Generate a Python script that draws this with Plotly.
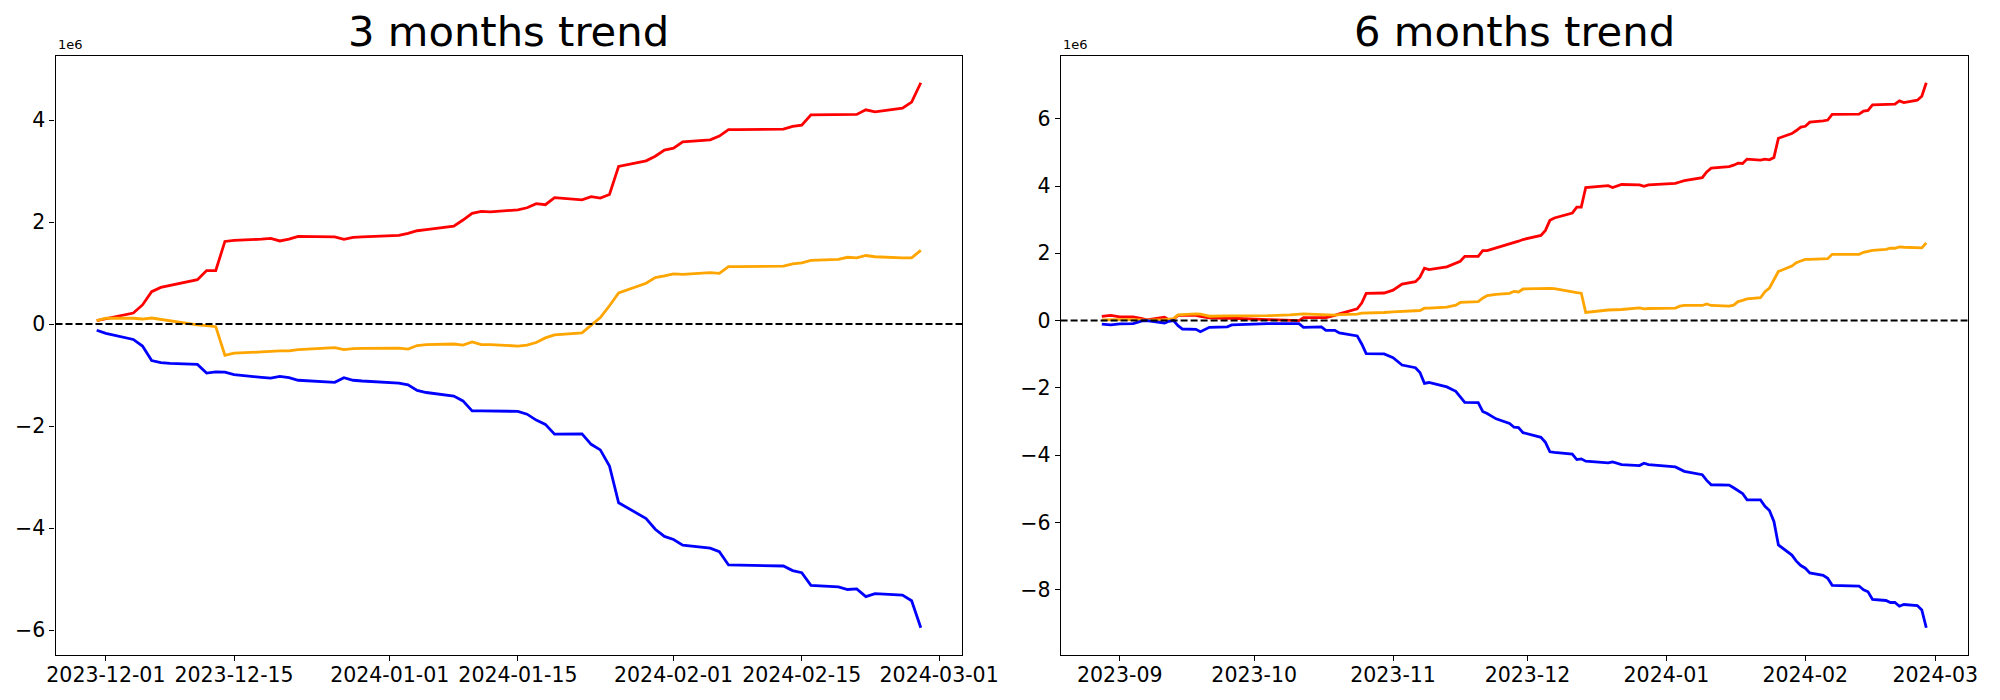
import plotly.graph_objects as go
import datetime as dt

# ---------------- data (values in units of 1e6) ----------------
dates_3m = [
    "2023-11-30", "2023-12-01", "2023-12-04", "2023-12-05", "2023-12-06", "2023-12-07", "2023-12-08",
    "2023-12-11", "2023-12-12", "2023-12-13", "2023-12-14", "2023-12-15",
    "2023-12-18", "2023-12-19", "2023-12-20", "2023-12-21", "2023-12-22",
    "2023-12-26", "2023-12-27", "2023-12-28", "2023-12-29",
    "2024-01-02", "2024-01-03", "2024-01-04", "2024-01-05",
    "2024-01-08", "2024-01-09", "2024-01-10", "2024-01-11", "2024-01-12",
    "2024-01-15", "2024-01-16", "2024-01-17", "2024-01-18", "2024-01-19",
    "2024-01-22", "2024-01-23", "2024-01-24", "2024-01-25", "2024-01-26",
    "2024-01-29", "2024-01-30", "2024-01-31", "2024-02-01", "2024-02-02",
    "2024-02-05", "2024-02-06", "2024-02-07", "2024-02-08", "2024-02-09",
    "2024-02-12", "2024-02-13", "2024-02-14", "2024-02-15", "2024-02-16",
    "2024-02-19", "2024-02-20", "2024-02-21", "2024-02-22", "2024-02-23",
    "2024-02-26", "2024-02-27", "2024-02-28",
]
red_3m = [
    0.067, 0.108, 0.218, 0.376, 0.637, 0.719, 0.76,
    0.87, 1.05, 1.05, 1.62, 1.64,
    1.665, 1.68, 1.63, 1.665, 1.72,
    1.708, 1.66, 1.70, 1.71,
    1.74, 1.78, 1.83, 1.85,
    1.92, 2.04, 2.17, 2.21, 2.20,
    2.24, 2.28, 2.36, 2.34, 2.48,
    2.435, 2.497, 2.47, 2.54, 3.09,
    3.20, 3.29, 3.41, 3.45, 3.57,
    3.61, 3.685, 3.81, 3.812, 3.815,
    3.817, 3.82, 3.875, 3.90, 4.10,
    4.10, 4.10, 4.11, 4.20, 4.16,
    4.23, 4.35, 4.73,
]
orange_3m = [
    0.067, 0.115, 0.115, 0.10, 0.12, 0.09, 0.067,
    -0.015, -0.03, -0.05, -0.61, -0.57,
    -0.545, -0.53, -0.525, -0.525, -0.50,
    -0.46, -0.50, -0.48, -0.475,
    -0.47, -0.49, -0.42, -0.40,
    -0.39, -0.41, -0.35, -0.40, -0.40,
    -0.43, -0.41, -0.36, -0.27, -0.21,
    -0.17, -0.015, 0.13, 0.36, 0.61,
    0.80, 0.91, 0.945, 0.985, 0.975,
    1.01, 0.995, 1.125, 1.128, 1.13,
    1.133, 1.135, 1.18, 1.20, 1.25,
    1.27, 1.31, 1.30, 1.345, 1.32,
    1.30, 1.30, 1.445,
]
blue_3m = [
    -0.12, -0.18, -0.30, -0.43, -0.715, -0.755, -0.77,
    -0.79, -0.96, -0.935, -0.94, -0.99,
    -1.045, -1.06, -1.025, -1.05, -1.10,
    -1.14, -1.05, -1.10, -1.115,
    -1.155, -1.19, -1.30, -1.34,
    -1.41, -1.505, -1.70, -1.70, -1.70,
    -1.71, -1.765, -1.88, -1.965, -2.155,
    -2.15, -2.355, -2.465, -2.78, -3.50,
    -3.81, -4.02, -4.16, -4.22, -4.33,
    -4.39, -4.46, -4.72, -4.723, -4.726,
    -4.73, -4.74, -4.83, -4.87, -5.12,
    -5.15, -5.20, -5.19, -5.34, -5.28,
    -5.31, -5.42, -5.95,
]

dates_6m = [
    "2023-08-28", "2023-08-30", "2023-09-01", "2023-09-04", "2023-09-06", "2023-09-07",
    "2023-09-11", "2023-09-12", "2023-09-13", "2023-09-14", "2023-09-15",
    "2023-09-18", "2023-09-19", "2023-09-21", "2023-09-25", "2023-09-26",
    "2023-10-04", "2023-10-09", "2023-10-11", "2023-10-12", "2023-10-16",
    "2023-10-17", "2023-10-19", "2023-10-20", "2023-10-24", "2023-10-25",
    "2023-10-26", "2023-10-30", "2023-11-01", "2023-11-03", "2023-11-06",
    "2023-11-07", "2023-11-08", "2023-11-09", "2023-11-13", "2023-11-15",
    "2023-11-16", "2023-11-17", "2023-11-20", "2023-11-21", "2023-11-22",
    "2023-11-24", "2023-11-27", "2023-11-28", "2023-11-29", "2023-11-30",
    "2023-12-04", "2023-12-05", "2023-12-06", "2023-12-07", "2023-12-11",
    "2023-12-12", "2023-12-13", "2023-12-14", "2023-12-19", "2023-12-20",
    "2023-12-22", "2023-12-26", "2023-12-27", "2023-12-28", "2024-01-03",
    "2024-01-04", "2024-01-05", "2024-01-09", "2024-01-10", "2024-01-11",
    "2024-01-15", "2024-01-16", "2024-01-17", "2024-01-18", "2024-01-19",
    "2024-01-22", "2024-01-23", "2024-01-24", "2024-01-25", "2024-01-26",
    "2024-01-29", "2024-01-30", "2024-01-31", "2024-02-01", "2024-02-02",
    "2024-02-05", "2024-02-06", "2024-02-07", "2024-02-13", "2024-02-14",
    "2024-02-15", "2024-02-16", "2024-02-19", "2024-02-20", "2024-02-21",
    "2024-02-22", "2024-02-23", "2024-02-26", "2024-02-27", "2024-02-28",
]
red_6m = [
    0.125, 0.155, 0.11, 0.11, 0.06, 0.02,
    0.10, 0.02, 0.04, 0.155, 0.155,
    0.155, 0.125, 0.08, 0.07, 0.07,
    0.03, 0.01, 0.0, 0.09, 0.08,
    0.09, 0.155, 0.20, 0.35, 0.52,
    0.81, 0.82, 0.905, 1.085, 1.155,
    1.29, 1.56, 1.515, 1.60, 1.70,
    1.765, 1.91, 1.91, 2.08, 2.08,
    2.16, 2.27, 2.31, 2.36, 2.41,
    2.53, 2.68, 2.98, 3.05, 3.195,
    3.375, 3.375, 3.955, 4.01, 3.955,
    4.045, 4.035, 3.99, 4.035, 4.08,
    4.12, 4.16, 4.25, 4.42, 4.53,
    4.58, 4.62, 4.68, 4.67, 4.80,
    4.77, 4.80, 4.78, 4.85, 5.42,
    5.56, 5.65, 5.75, 5.775, 5.90,
    5.935, 5.96, 6.13, 6.14, 6.23,
    6.25, 6.41, 6.42, 6.43, 6.435,
    6.53, 6.48, 6.55, 6.67, 7.07,
]
orange_6m = [
    0.02, 0.03, 0.03, 0.03, 0.02, 0.01,
    0.03, 0.04, 0.06, 0.17, 0.18,
    0.20, 0.19, 0.13, 0.14, 0.14,
    0.145, 0.17, 0.18, 0.20, 0.18,
    0.17, 0.165, 0.18, 0.19, 0.22,
    0.22, 0.24, 0.26, 0.28, 0.29,
    0.30, 0.37, 0.37, 0.40, 0.46,
    0.54, 0.55, 0.565, 0.665, 0.745,
    0.78, 0.81, 0.87, 0.85, 0.94,
    0.96, 0.96, 0.96, 0.95, 0.84,
    0.83, 0.815, 0.245, 0.315, 0.32,
    0.33, 0.38, 0.35, 0.36, 0.37,
    0.43, 0.45, 0.45, 0.495, 0.45,
    0.43, 0.46, 0.565, 0.60, 0.645,
    0.68, 0.86, 0.97, 1.20, 1.46,
    1.62, 1.72, 1.77, 1.82, 1.82,
    1.83, 1.84, 1.97, 1.97, 2.03,
    2.05, 2.09, 2.12, 2.155, 2.15,
    2.19, 2.18, 2.16, 2.16, 2.31,
]
blue_6m = [
    -0.105, -0.125, -0.10, -0.09, -0.01, 0.0,
    -0.07, -0.02, 0.0, -0.15, -0.25,
    -0.26, -0.33, -0.20, -0.185, -0.13,
    -0.09, -0.09, -0.09, -0.20, -0.185,
    -0.29, -0.29, -0.365, -0.455, -0.695,
    -0.98, -0.99, -1.105, -1.32, -1.40,
    -1.545, -1.865, -1.84, -1.97, -2.10,
    -2.25, -2.43, -2.44, -2.70, -2.76,
    -2.92, -3.055, -3.17, -3.18, -3.33,
    -3.47, -3.62, -3.90, -3.92, -3.97,
    -4.13, -4.11, -4.18, -4.23, -4.20,
    -4.28, -4.31, -4.24, -4.28, -4.35,
    -4.42, -4.48, -4.58, -4.75, -4.88,
    -4.89, -4.97, -5.06, -5.14, -5.33,
    -5.33, -5.52, -5.645, -5.97, -6.67,
    -6.97, -7.15, -7.28, -7.36, -7.50,
    -7.57, -7.66, -7.87, -7.89, -8.0,
    -8.06, -8.29, -8.32, -8.38, -8.38,
    -8.49, -8.44, -8.47, -8.60, -9.13,
]

SCALE = 1e6
titles = ["3 months trend", "6 months trend"]
xticks_3m = ["2023-12-01", "2023-12-15", "2024-01-01", "2024-01-15", "2024-02-01", "2024-02-15", "2024-03-01"]
xticks_6m = ["2023-09-01", "2023-10-01", "2023-11-01", "2023-12-01", "2024-01-01", "2024-02-01", "2024-03-01"]
xticklabels_6m = ["2023-09", "2023-10", "2023-11", "2023-12", "2024-01", "2024-02", "2024-03"]
yticks_3m = [-6, -4, -2, 0, 2, 4]
yticks_6m = [-8, -6, -4, -2, 0, 2, 4, 6]


# ---------------- helpers ----------------
def pad_range_dates(d):
    a = dt.datetime.fromisoformat(d[0])
    b = dt.datetime.fromisoformat(d[-1])
    m = (b - a) * 0.05
    return [(a - m).isoformat(), (b + m).isoformat()]


def pad_range_vals(*series):
    lo = min(min(s) for s in series) * SCALE
    hi = max(max(s) for s in series) * SCALE
    m = (hi - lo) * 0.05
    return [lo - m, hi + m]


def fmt(v):
    return ("\u2212" + str(abs(v))) if v < 0 else str(v)


FONT = "DejaVu Sans"
colors = {"red": "#ff0000", "orange": "#ffa500", "blue": "#0000ff"}

fig = go.Figure()

panels = [
    (dates_3m, red_3m, orange_3m, blue_3m, "x", "y"),
    (dates_6m, red_6m, orange_6m, blue_6m, "x2", "y2"),
]
for d, r, o, b, xa, ya in panels:
    for name, vals in (("red", r), ("orange", o), ("blue", b)):
        fig.add_trace(go.Scatter(
            x=d, y=[v * SCALE for v in vals], mode="lines",
            line=dict(color=colors[name], width=2.8),
            xaxis=xa, yaxis=ya, showlegend=False, hoverinfo="skip",
        ))

W, H = 2000, 700
dom1 = [55.5 / W, 962.0 / W]
dom2 = [1060.6 / W, 1967.5 / W]
ydom = [(H - 655.0) / H, (H - 55.5) / H]

axis_common = dict(
    showgrid=False, zeroline=False, showline=True, linecolor="black", linewidth=1.1,
    mirror=True, ticks="outside", ticklen=5, tickwidth=1.1, tickcolor="black",
    tickfont=dict(family=FONT, size=20.5, color="black"), automargin=False,
)

fig.update_layout(
    width=W, height=H, autosize=False,
    margin=dict(l=0, r=0, t=0, b=0, pad=0),
    paper_bgcolor="white", plot_bgcolor="white",
    showlegend=False,
    xaxis=dict(domain=dom1, anchor="y", type="date", range=pad_range_dates(dates_3m),
               tickvals=xticks_3m, ticktext=xticks_3m, ticklabelstandoff=-4, **axis_common),
    yaxis=dict(domain=ydom, anchor="x", range=pad_range_vals(red_3m, orange_3m, blue_3m),
               tickvals=[v * SCALE for v in yticks_3m], ticktext=[fmt(v) for v in yticks_3m],
               **axis_common),
    xaxis2=dict(domain=dom2, anchor="y2", type="date", range=pad_range_dates(dates_6m),
                tickvals=xticks_6m, ticktext=xticklabels_6m, ticklabelstandoff=-4, **axis_common),
    yaxis2=dict(domain=ydom, anchor="x2", range=pad_range_vals(red_6m, orange_6m, blue_6m),
                tickvals=[v * SCALE for v in yticks_6m], ticktext=[fmt(v) for v in yticks_6m],
                **axis_common),
)

# zero reference lines
for xa, ya in (("x", "y"), ("x2", "y2")):
    fig.add_shape(type="line", xref=f"{xa} domain", yref=ya, x0=0, x1=1, y0=0, y1=0,
                  line=dict(color="black", width=2, dash="7px,3px"), layer="above")

# titles and offset labels
for dom, t in ((dom1, titles[0]), (dom2, titles[1])):
    fig.add_annotation(text=t, xref="paper", yref="paper", x=(dom[0] + dom[1]) / 2,
                       y=ydom[1] - 0.003, xanchor="center", yanchor="bottom", showarrow=False,
                       font=dict(family=FONT, size=41.7, color="black"))
    fig.add_annotation(text="1e6", xref="paper", yref="paper", x=dom[0], y=ydom[1] + 0.002,
                       xanchor="left", yanchor="bottom", showarrow=False,
                       font=dict(family=FONT, size=13, color="black"))

fig.write_html("out.html", config={"displayModeBar": False},
               post_script="document.body.style.margin='0px';")
